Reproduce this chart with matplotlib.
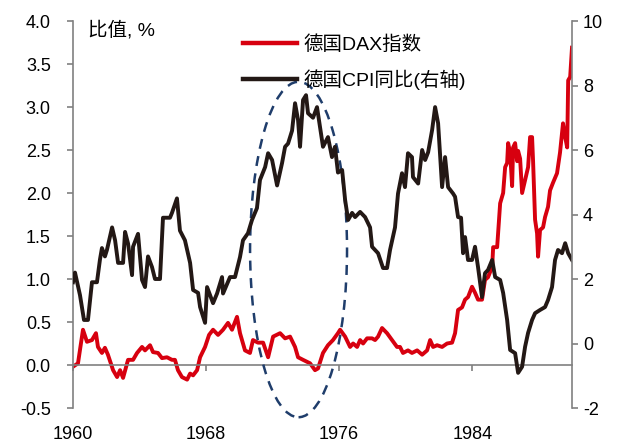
import numpy as np
import matplotlib.pyplot as plt
from matplotlib.patches import Ellipse
from matplotlib.lines import Line2D

# Latin text in an Arial-like face, Chinese falls back to Noto CJK
plt.rcParams['font.family'] = ['Liberation Sans', 'Noto Sans CJK SC']

# ---- data ----
# DAX ratio, left axis; x given as years after 1960
dax_t = [0.00, 0.30, 0.60, 0.84, 1.14, 1.38, 1.50, 1.74, 1.92, 2.10, 2.41, 2.65, 2.83, 3.01,
         3.31, 3.61, 3.85, 4.15, 4.33, 4.63, 4.81, 5.11, 5.35, 5.65, 5.95, 6.13, 6.31, 6.55,
         6.86, 7.04, 7.22, 7.46, 7.64, 7.94, 8.18, 8.42, 8.72, 9.02, 9.32, 9.56, 9.86, 10.04,
         10.34, 10.64, 10.82, 11.12, 11.43, 11.73, 12.03, 12.45, 12.75, 13.05, 13.35, 13.53,
         13.83, 14.25, 14.55, 14.73, 15.03, 15.33, 15.63, 15.93, 16.06, 16.36, 16.66, 16.84,
         17.08, 17.26, 17.44, 17.68, 17.98, 18.16, 18.34, 18.58, 18.88, 19.18, 19.48, 19.66,
         19.84, 20.14, 20.38, 20.69, 20.99, 21.29, 21.47, 21.65, 21.89, 22.19, 22.49, 22.79,
         22.97, 23.15, 23.39, 23.57, 23.75, 23.99, 24.17, 24.35, 24.59, 24.77, 24.95, 25.20,
         25.26, 25.50, 25.68, 25.86, 25.98, 26.10, 26.16, 26.28, 26.40, 26.46, 26.58, 26.70,
         26.76, 26.88, 27.00, 27.18, 27.36, 27.48, 27.60, 27.66, 27.78, 27.90, 27.96, 28.08,
         28.26, 28.38, 28.56, 28.68, 28.86, 29.10, 29.28, 29.46, 29.59, 29.71, 29.77, 29.89,
         30.00]
dax_ratio = [-0.02, 0.02, 0.41, 0.27, 0.29, 0.37, 0.21, 0.14, 0.20, 0.12, -0.06, -0.14, -0.06, -0.15,
             0.06, 0.06, 0.14, 0.21, 0.17, 0.23, 0.15, 0.14, 0.08, 0.09, 0.06, 0.06, -0.06, -0.14,
             -0.17, -0.10, -0.12, -0.06, 0.09, 0.21, 0.35, 0.41, 0.35, 0.41, 0.49, 0.41, 0.56, 0.37,
             0.17, 0.14, 0.29, 0.26, 0.26, 0.09, 0.33, 0.37, 0.31, 0.33, 0.21, 0.09,
             0.06, 0.02, -0.06, -0.04, 0.14, 0.23, 0.29, 0.37, 0.41, 0.33, 0.21, 0.25,
             0.21, 0.29, 0.25, 0.31, 0.31, 0.29, 0.33, 0.43, 0.37, 0.29, 0.21, 0.21,
             0.14, 0.17, 0.14, 0.17, 0.12, 0.17, 0.29, 0.21, 0.23, 0.21, 0.25, 0.26,
             0.37, 0.64, 0.67, 0.76, 0.79, 0.91, 0.84, 0.76, 0.76, 0.99, 1.02, 1.14,
             1.37, 1.37, 1.88, 2.00, 2.30, 2.35, 2.58, 2.47, 2.08, 2.53, 2.58, 2.37,
             2.49, 2.40, 2.00, 2.15, 2.30, 2.65, 2.65, 2.37, 1.69, 1.53, 1.26, 1.57,
             1.60, 1.72, 1.84, 2.03, 2.12, 2.23, 2.47, 2.81, 2.65, 2.53, 3.31, 3.35,
             3.69]

# German CPI yoy (%), right axis
cpi_t = [0.00, 0.12, 0.42, 0.66, 0.90, 1.14, 1.44, 1.62, 1.74, 1.92, 2.04, 2.35, 2.53, 2.71,
         3.01, 3.13, 3.31, 3.55, 3.61, 3.91, 4.15, 4.33, 4.51, 4.75, 4.93, 5.23, 5.41, 5.83,
         5.95, 6.25, 6.43, 6.73, 7.04, 7.22, 7.52, 7.64, 7.94, 8.06, 8.42, 8.66, 8.96, 9.02,
         9.44, 9.74, 10.04, 10.22, 10.52, 10.76, 11.06, 11.24, 11.55, 11.73, 11.97, 12.27,
         12.57, 12.75, 12.93, 13.17, 13.35, 13.53, 13.65, 13.83, 14.01, 14.13, 14.43, 14.67,
         14.85, 15.03, 15.33, 15.57, 15.75, 15.93, 16.18, 16.36, 16.54, 16.78, 16.96, 17.26,
         17.56, 17.86, 17.98, 18.34, 18.64, 18.88, 19.06, 19.36, 19.54, 19.78, 19.96, 20.14,
         20.38, 20.44, 20.75, 20.99, 21.17, 21.35, 21.59, 21.77, 21.95, 22.19, 22.37, 22.55,
         22.85, 22.97, 23.15, 23.33, 23.45, 23.57, 23.75, 23.99, 24.17, 24.35, 24.59, 24.77,
         24.95, 25.20, 25.38, 25.68, 25.86, 26.10, 26.28, 26.58, 26.76, 27.00, 27.18, 27.36,
         27.60, 27.78, 28.08, 28.38, 28.56, 28.80, 28.98, 29.16, 29.40, 29.59, 29.77, 30.00]
cpi_yoy = [1.9, 2.2, 1.5, 0.73, 0.73, 1.9, 1.9, 2.6, 2.96, 2.7, 2.9, 3.6, 3.2, 2.5,
           2.5, 3.46, 3.1, 2.12, 3.0, 3.4, 1.97, 1.75, 2.7, 2.37, 2.0, 2.0, 3.9, 3.9,
           4.05, 4.5, 3.5, 3.2, 2.5, 1.66, 1.57, 1.13, 0.64, 1.75, 1.25, 1.55, 2.06, 1.55,
           2.06, 2.06, 2.68, 3.2, 3.42, 3.83, 4.2, 5.07, 5.47, 5.9, 5.69, 4.9,
           5.6, 6.1, 6.2, 6.6, 7.45, 6.93, 6.1, 7.55, 7.7, 7.14, 7.0, 7.33,
           6.71, 6.1, 6.4, 5.78, 6.1, 5.3, 5.38, 4.45, 3.83, 4.05, 3.92, 4.08,
           3.92, 3.6, 3.0, 2.8, 2.34, 2.34, 2.9, 3.6, 4.65, 5.28, 4.85, 5.9,
           5.78, 5.16, 4.96, 6.0, 5.69, 5.93, 6.62, 7.33, 6.83, 4.85, 5.78, 4.85,
           4.65, 4.55, 3.92, 3.9, 2.8, 3.3, 2.59, 2.59, 3.0, 2.37, 1.44, 2.18,
           2.28, 2.59, 2.06, 1.97, 1.57, 0.73, -0.2, -0.3, -0.91, -0.72, -0.1, 0.33,
           0.73, 0.94, 1.04, 1.13, 1.35, 1.75, 2.59, 2.9, 2.8, 3.11, 2.8, 2.59]

dax_years = 1960 + np.array(dax_t)
cpi_years = 1960 + np.array(cpi_t)

year_ticks = [1960, 1968, 1976, 1984]
left_ticks = [-0.5, 0.0, 0.5, 1.0, 1.5, 2.0, 2.5, 3.0, 3.5, 4.0]
right_ticks = [-2, 0, 2, 4, 6, 8, 10]
labels = ['德国DAX指数', '德国CPI同比(右轴)']

red = '#d7000f'
black = '#231815'
grey = '#808080'

fig = plt.figure(figsize=(6.25, 4.46), dpi=100)
ax = fig.add_axes([0.1168, 0.0852, 0.7984, 0.8677])
ax2 = ax.twinx()

ax.plot(dax_years, dax_ratio, color=red, lw=2.8, solid_joinstyle='round')
ax2.plot(cpi_years, cpi_yoy, color=black, lw=2.8, solid_joinstyle='round')

ax.set_xlim(1960, 1990)
ax.set_ylim(-0.5, 4.0)
ax2.set_ylim(-2, 10)

ax.set_xticks(year_ticks)
ax.set_xticklabels([str(y) for y in year_ticks])
ax.set_yticks(left_ticks)
ax.set_yticklabels([f'{v:.1f}' for v in left_ticks])
ax2.set_yticks(right_ticks)
ax2.set_yticklabels([str(v) for v in right_ticks])

# spines: x axis sits on the zero line, labels stay at the bottom
for s in ['top', 'right']:
    ax.spines[s].set_visible(False)
for s in ['top', 'left', 'bottom']:
    ax2.spines[s].set_visible(False)
ax.spines['bottom'].set_position(('data', 0))
for sp in [ax.spines['left'], ax.spines['bottom'], ax2.spines['right']]:
    sp.set_color(grey)
    sp.set_linewidth(1.2)

ax.tick_params(axis='y', direction='out', length=4, width=1.2, color=grey,
               labelsize=13, pad=12)
ax.tick_params(axis='x', direction='out', length=4, width=1.2, color=grey,
               labelsize=13, pad=40)
ax2.tick_params(axis='y', direction='out', length=4, width=1.2, color=grey,
                labelsize=13, pad=4)

# dashed ellipse marking the 1970s inflation peak
ell = Ellipse((1973.56, 1.343), 5.83, 3.9, fill=False, ec='#1f3d6b', lw=1.8,
              ls=(0, (4, 3)), clip_on=False, zorder=5)
ax.add_patch(ell)

# legend
handles = [Line2D([], [], color=red, lw=3.2), Line2D([], [], color=black, lw=3.2)]
fig.legend(handles, labels, loc='upper left', bbox_to_anchor=(243 / 625, 1 - 35 / 446),
           frameon=False, fontsize=14, handlelength=2.8, handletextpad=0.3,
           labelspacing=0.8, borderpad=0, borderaxespad=0)

fig.text(88 / 625, 1 - 30 / 446, '比值, %', fontsize=14, va='center')

fig.savefig('out.png', dpi=100)
